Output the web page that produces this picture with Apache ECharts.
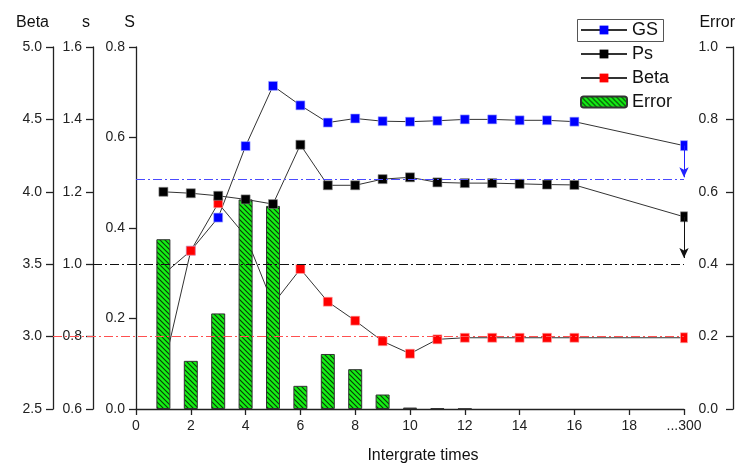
<!DOCTYPE html>
<html>
<head>
<meta charset="utf-8">
<script src="https://cdn.jsdelivr.net/npm/echarts@6/dist/echarts.min.js"></script>
<style>
  html, body { margin: 0; padding: 0; background: #fff; }
  #chart { width: 739px; height: 470px; }
</style>
</head>
<body>
<div id="chart"></div>
<script>
// ---- data ----
const iterations = [1, 2, 3, 4, 5, 6, 7, 8, 9, 10, 11, 12, 13, 14, 15, 16, 20];
const xTickLabels = ['0', '2', '4', '6', '8', '10', '12', '14', '16', '18', '...300'];
const gsValues   = [0.088, 0.350, 0.423, 0.581, 0.714, 0.671, 0.633, 0.642, 0.636, 0.635, 0.637, 0.640, 0.640, 0.638, 0.638, 0.635, 0.582];
const psValues   = [1.200, 1.196, 1.189, 1.179, 1.166, 1.330, 1.218, 1.218, 1.235, 1.240, 1.226, 1.224, 1.224, 1.222, 1.220, 1.219, 1.131];
const betaValues = [3.430, 3.593, 3.921, 3.695, 3.225, 3.467, 3.241, 3.110, 2.968, 2.882, 2.981, 2.992, 2.992, 2.992, 2.992, 2.992, 2.992];
const errorIterations = [1, 2, 3, 4, 5, 6, 7, 8, 9, 10, 11, 12];
const errorValues = [0.469, 0.133, 0.264, 0.579, 0.561, 0.064, 0.152, 0.110, 0.040, 0.004, 0.002, 0.001];
const gsTarget = 0.508, psTarget = 1.0, betaTarget = 3.0;
const gsArrowEnd = 0.512, psArrowEnd = 1.017;
const xMax = 20;

// ---- layout / style ----
const FONT = "'Liberation Sans', Arial, sans-serif";
const gridLeft = 136, gridRight = 55;
const offS = 0, offs = 43, offBeta = 83, offErr = 49;
const dashDot = [9, 3, 2, 3];

function hatchCanvas() {
  const n = 5;
  const c = document.createElement('canvas');
  c.width = n; c.height = n;
  const g = c.getContext('2d');
  g.fillStyle = '#14f014';
  g.fillRect(0, 0, n, n);
  g.strokeStyle = '#083a08';
  g.lineWidth = 1.1;
  g.beginPath();
  g.moveTo(-1, -1); g.lineTo(n + 1, n + 1);
  g.moveTo(-1, n - 1); g.lineTo(1, n + 1);
  g.moveTo(n - 1, -1); g.lineTo(n + 1, 1);
  g.stroke();
  return c;
}

const axisLineStyle = { color: '#222', width: 1.3 };
function leftAxis(name, min, max, interval, offset, namePad) {
  return {
    type: 'value', position: 'left', offset: offset, min: min, max: max, interval: interval,
    name: name, nameLocation: 'end', nameGap: 16,
    nameTextStyle: { fontSize: 16, color: '#111', fontFamily: FONT, align: 'right', padding: [0, namePad, 0, 0] },
    axisLine: { show: true, lineStyle: axisLineStyle },
    axisTick: { show: true, length: 7, lineStyle: axisLineStyle },
    axisLabel: { fontSize: 14, color: '#222', fontFamily: FONT, margin: 11, formatter: v => v.toFixed(1) },
    splitLine: { show: false }
  };
}

// last point ("...300") is drawn with a narrower marker, as in the reference
const pts = vals => iterations.map((x, i) =>
  i === iterations.length - 1 ? { value: [x, vals[i]], symbolSize: [7, 10] } : [x, vals[i]]);

const option = {
  animation: false,
  backgroundColor: '#fff',
  grid: { left: gridLeft, right: gridRight, top: 47, bottom: 61 },
  legend: {
    orient: 'vertical', left: 580, top: 21, padding: 0,
    itemWidth: 46, itemHeight: 11, itemGap: 6,
    textStyle: { fontSize: 18, color: '#111', fontFamily: FONT },
    data: [
      { name: 'GS', itemStyle: { borderWidth: 0 } },
      { name: 'Ps', itemStyle: { borderWidth: 0 } },
      { name: 'Beta', itemStyle: { borderWidth: 0 } },
      { name: 'Error' }
    ]
  },
  graphic: [{
    type: 'rect', left: 577, top: 19, z: 0,
    shape: { width: 86, height: 22 },
    style: { fill: '#fff', stroke: '#555', lineWidth: 1 }
  }],
  xAxis: {
    type: 'value', min: 0, max: xMax, interval: 2,
    name: 'Intergrate times', nameLocation: 'middle', nameGap: 39,
    nameTextStyle: { fontSize: 16, color: '#111', fontFamily: FONT, padding: [0, 0, 0, 26] },
    axisLine: { show: true, lineStyle: axisLineStyle },
    axisTick: { show: true, length: 6, lineStyle: axisLineStyle },
    axisLabel: { fontSize: 14, color: '#222', fontFamily: FONT, margin: 10,
      formatter: v => xTickLabels[Math.round(v / 2)] },
    splitLine: { show: false }
  },
  yAxis: [
    leftAxis('S', 0, 0.8, 0.2, offS, 1),
    leftAxis('s', 0.6, 1.6, 0.2, offs, 3),
    leftAxis('Beta', 2.5, 5.0, 0.5, offBeta, 4),
    {
      type: 'value', position: 'right', offset: offErr, min: 0, max: 1, interval: 0.2,
      name: 'Error', nameLocation: 'end', nameGap: 16,
      nameTextStyle: { fontSize: 16, color: '#111', fontFamily: FONT, align: 'right', padding: [0, -2, 0, 0] },
      axisLine: { show: true, lineStyle: axisLineStyle },
      axisTick: { show: true, inside: true, length: 7, lineStyle: axisLineStyle },
      axisLabel: { inside: true, fontSize: 14, color: '#222', fontFamily: FONT, margin: 15, formatter: v => v.toFixed(1) },
      splitLine: { show: false }
    }
  ],
  series: [
    {
      name: 'GS', type: 'line', yAxisIndex: 0, z: 2, data: pts(gsValues),
      symbol: 'rect', symbolSize: 9,
      lineStyle: { color: '#333', width: 1 },
      itemStyle: { color: '#0000ff', borderColor: '#aab0ff', borderWidth: 0.6 },
      markLine: {
        silent: true, symbol: ['none', 'none'], label: { show: false },
        data: [
          // reference line starts at its own axis (S)
          [{ x: gridLeft - offS, coord: [0, gsTarget], lineStyle: { color: '#4a4aff', width: 1, type: dashDot } },
           { coord: [xMax, gsTarget] }],
          [{ coord: [xMax, gsValues[gsValues.length - 1]], symbol: 'none', lineStyle: { color: '#2222ff', width: 1, type: 'solid' } },
           { coord: [xMax, gsArrowEnd], symbol: 'arrow', symbolSize: [7, 10] }]
        ]
      }
    },
    {
      name: 'Beta', type: 'line', yAxisIndex: 2, z: 2, data: pts(betaValues),
      symbol: 'rect', symbolSize: 9,
      lineStyle: { color: '#333', width: 1 },
      itemStyle: { color: '#ff0000', borderColor: '#ffaaaa', borderWidth: 0.6 },
      markLine: {
        silent: true, symbol: ['none', 'none'], label: { show: false },
        data: [
          // reference line starts at its own axis (Beta)
          [{ x: gridLeft - offBeta, coord: [0, betaTarget], lineStyle: { color: '#ff5050', width: 1, type: dashDot } },
           { coord: [xMax, betaTarget] }]
        ]
      }
    },
    {
      name: 'Error', type: 'bar', yAxisIndex: 3, z: 3,
      data: errorIterations.map((x, i) => [x, errorValues[i]]),
      barWidth: 14,
      itemStyle: { color: { image: hatchCanvas(), repeat: 'repeat' }, borderColor: '#333', borderWidth: 1 }
    },
    {
      name: 'Ps', type: 'line', yAxisIndex: 1, z: 4, data: pts(psValues),
      symbol: 'rect', symbolSize: 9,
      lineStyle: { color: '#333', width: 1 },
      itemStyle: { color: '#000000', borderColor: '#888', borderWidth: 0.6 },
      markLine: {
        silent: true, symbol: ['none', 'none'], label: { show: false },
        data: [
          // reference line starts at its own axis (s)
          [{ x: gridLeft - offs, coord: [0, psTarget], lineStyle: { color: '#111', width: 1, type: dashDot } },
           { coord: [xMax, psTarget] }],
          [{ coord: [xMax, psValues[psValues.length - 1]], symbol: 'none', lineStyle: { color: '#111', width: 1, type: 'solid' } },
           { coord: [xMax, psArrowEnd], symbol: 'arrow', symbolSize: [7, 10] }]
        ]
      }
    }
  ]
};

const chart = echarts.init(document.getElementById('chart'), null, { renderer: 'canvas' });
chart.setOption(option);
</script>
</body>
</html>
